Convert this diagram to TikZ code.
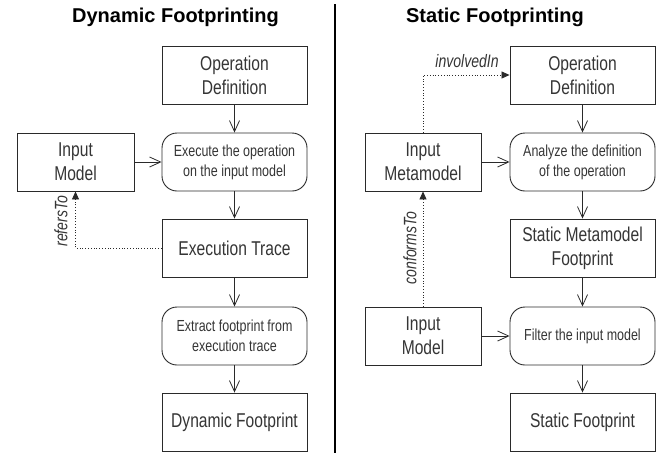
\documentclass[tikz,border=0pt]{standalone}
\usepackage{fontspec}
\setmainfont{Liberation Sans}[FakeStretch=0.78]
\newfontfamily\titlefont{Liberation Sans}
\usetikzlibrary{arrows.meta}
\definecolor{ink}{HTML}{2A2A2A}
\definecolor{txt}{HTML}{353535}
\tikzset{
  x=1pt, y=-1pt,
  every node/.style={text=txt, inner sep=0pt, align=center},
  box/.style={draw=ink, line width=0.9pt, minimum width=145pt, minimum height=58pt, font=\fontsize{20}{24}\selectfont},
  inbox/.style={box, minimum width=117pt},
  act/.style={draw=ink, line width=0.9pt, rounded corners=15pt, minimum width=145pt, minimum height=58pt, font=\fontsize{16}{20}\selectfont},
  flow/.style={draw=ink, line width=0.8pt, -{Straight Barb[length=11pt,width=10pt,line width=0.8pt]}},
  rel/.style={draw=ink, line width=0.8pt, dotted, -{Triangle[length=8pt,width=7pt]}},
  lab/.style={font=\fontsize{18}{20}\selectfont\itshape},
  ttl/.style={font=\titlefont\bfseries\fontsize{20}{24}\selectfont, text=black},
}
\begin{document}
\begin{tikzpicture}
\useasboundingbox (0,0) rectangle (668,456);
% titles
\node[ttl] (t1) at (175.5,17) {Dynamic Footprinting};
\node[ttl] (t2) at (495,17) {Static Footprinting};
% separator
\coordinate (s1) at (335,4);
\coordinate (s2) at (335,453);
\draw[line width=2pt, black] (s1) -- (s2);
% dynamic
\node[box] (od1) at (234.5,75) {Operation\\Definition};
\node[act] (ex1) at (234.5,162) {Execute the operation\\on the input model};
\node[inbox] (im1) at (75.5,162) {Input\\Model};
\node[box] (tr1) at (234.5,248) {Execution Trace};
\node[act] (ef1) at (234.5,336) {Extract footprint from\\execution trace};
\node[box] (df1) at (234.5,422) {Dynamic Footprint};
\draw[flow] (od1) -- (ex1);
\draw[flow] (im1) -- (ex1);
\draw[flow] (ex1) -- (tr1);
\draw[flow] (tr1) -- (ef1);
\draw[flow] (ef1) -- (df1);
\draw[rel] (tr1.west) -| (im1.south);
\node[lab, rotate=90] (l1) at (61,221) {refersTo};
% static
\node[box] (od2) at (582.5,75) {Operation\\Definition};
\node[act] (an2) at (582.5,162) {Analyze the definition\\of the operation};
\node[inbox, minimum width=116pt] (mm2) at (423,162) {Input\\Metamodel};
\node[box] (sm2) at (582.5,248) {Static Metamodel\\Footprint};
\node[act] (fi2) at (582.5,336) {Filter the input model};
\node[inbox, minimum width=116pt] (im2) at (423,336) {Input\\Model};
\node[box] (sf2) at (582.5,422) {Static Footprint};
\draw[flow] (od2) -- (an2);
\draw[flow] (mm2) -- (an2);
\draw[flow] (an2) -- (sm2);
\draw[flow] (sm2) -- (fi2);
\draw[flow] (im2) -- (fi2);
\draw[flow] (fi2) -- (sf2);
\draw[rel] (mm2.north) |- (od2.west);
\draw[rel] (im2.north) -- (mm2.south);
\node[lab] (l2) at (467,61) {involvedIn};
\node[lab, rotate=90] (l3) at (410,248) {conformsTo};
\end{tikzpicture}
\end{document}
